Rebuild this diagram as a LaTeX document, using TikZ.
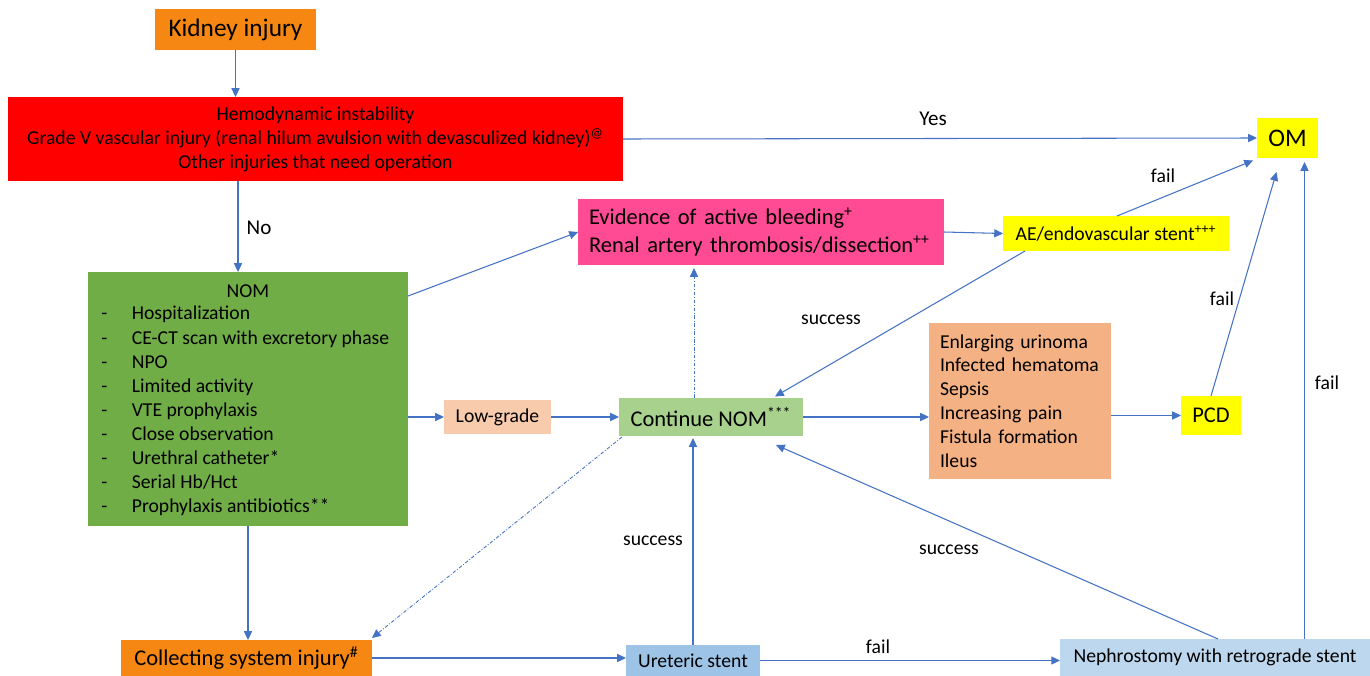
\documentclass[tikz,border=0pt]{standalone}
\usepackage{fontspec}
\setmainfont{Carlito}
\usetikzlibrary{arrows.meta,calc}
\definecolor{arrowblue}{HTML}{4472C4}
\definecolor{kidorange}{HTML}{F58712}
\definecolor{redbox}{HTML}{FF0000}
\definecolor{nomgreen}{HTML}{70AD47}
\definecolor{pinkbox}{HTML}{FF4A94}
\definecolor{yelbox}{HTML}{FFFF00}
\definecolor{contgreen}{HTML}{A9D18E}
\definecolor{lowpeach}{HTML}{F8CBAD}
\definecolor{compsalmon}{HTML}{F4B183}
\definecolor{urblue}{HTML}{9DC3E6}
\definecolor{nephblue}{HTML}{BDD7EE}
\newcommand{\fsmall}{\fontsize{11.2}{13.7}\selectfont}
\newcommand{\fmed}{\fontsize{12.8}{15.6}\selectfont}
\newcommand{\flarge}{\fontsize{14.4}{17}\selectfont}
\tikzset{
  box/.style={inner sep=0pt, outer sep=0pt, draw=none},
  arr/.style={draw=arrowblue, line width=0.6pt, -{Triangle[length=5pt,width=4.6pt]}},
  dotarr/.style={arr, line width=0.5pt, dash pattern=on 2pt off 1pt on 0.5pt off 1pt},
  lbl/.style={font=\fsmall, inner sep=0pt},
}
\begin{document}
\begin{tikzpicture}[x=0.02cm,y=-0.02cm]
\useasboundingbox (0,0) rectangle (1370,676);

% boxes
\node[box, fill=kidorange, minimum width=3.22cm, minimum height=0.82cm, font=\flarge] (kid) at (235.5,29.5) {\raisebox{-0.04cm}{Kidney injury}};
\node[box, fill=redbox, minimum width=12.3cm, minimum height=1.68cm, font=\fsmall, align=center] (red) at (315.5,139)
  {\raisebox{-0.05cm}{Hemodynamic instability}\\\raisebox{-0.05cm}{Grade V vascular injury (renal hilum avulsion with devasculized kidney)\textsuperscript{@}}\\\raisebox{-0.05cm}{Other injuries that need operation}};
\node[box, fill=yelbox, minimum width=1.22cm, minimum height=0.8cm, font=\flarge] (om) at (1287.5,138) {OM};
\node[box, fill=nomgreen, minimum width=6.4cm, minimum height=5.08cm] (nom) at (248,399) {};
\node[lbl] (nomtitle) at (248,291) {NOM};
\node[lbl, anchor=west, align=left] (nomlist) at (101,411)
  {\makebox[0.61cm][l]{-}Hospitalization\\
   \makebox[0.61cm][l]{-}CE-CT scan with excretory phase\\
   \makebox[0.61cm][l]{-}NPO\\
   \makebox[0.61cm][l]{-}Limited activity\\
   \makebox[0.61cm][l]{-}VTE prophylaxis\\
   \makebox[0.61cm][l]{-}Close observation\\
   \makebox[0.61cm][l]{-}Urethral catheter*\\
   \makebox[0.61cm][l]{-}Serial Hb/Hct\\
   \makebox[0.61cm][l]{-}Prophylaxis antibiotics**};
\node[box, fill=pinkbox, minimum width=7.32cm, minimum height=1.32cm, text width=6.88cm, align=left,
  font=\fontsize{12.8}{15.6}\selectfont] (pink) at (761,232)
  {Evidence of active bleeding\textsuperscript{+}\\Renal artery thrombosis/dissection\textsuperscript{++}};
\node[box, fill=yelbox, minimum width=4.52cm, minimum height=0.7cm, font=\fsmall] (ae) at (1116,233.5) {AE/endovascular stent\textsuperscript{+++}};
\node[box, fill=contgreen, minimum width=3.68cm, minimum height=0.76cm, font=\fmed] (cont) at (711,417) {Continue NOM\textsuperscript{***}};
\node[box, fill=lowpeach, minimum width=2.14cm, minimum height=0.68cm, font=\fsmall] (low) at (497.5,417) {Low-grade};
\node[box, fill=compsalmon, minimum width=3.64cm, minimum height=3.12cm, text width=3.2cm, align=left,
  font=\fontsize{11.2}{13.6}\selectfont] (comp) at (1020,401)
  {Enlarging urinoma\\Infected hematoma\\Sepsis\\Increasing pain\\Fistula formation\\Ileus};
\node[box, fill=yelbox, minimum width=1.2cm, minimum height=0.78cm, font=\fmed] (pcd) at (1211,415.5) {PCD};
\node[box, fill=kidorange, minimum width=5.02cm, minimum height=0.72cm, font=\fmed] (coll) at (246.5,658) {Collecting system injury\textsuperscript{\#}};
\node[box, fill=urblue, minimum width=2.68cm, minimum height=0.62cm, font=\fsmall] (ure) at (693,660.5) {Ureteric stent};
\node[box, fill=nephblue, minimum width=6.2cm, minimum height=0.74cm, font=\fsmall] (neph) at (1215,657.5) {Nephrostomy with retrograde stent};

% helper coordinates
\coordinate (nomtop) at ([xshift=-0.2cm]nom.north);
\coordinate (contup) at ([xshift=-0.34cm]cont.north);
\coordinate (omright) at ([xshift=0.34cm]om.south);

% connectors
\draw[arr] (kid.south) -- (kid.south |- red.north);
\draw[arr] (nomtop |- red.south) -- (nomtop);
\node[font=\fontsize{12}{14}\selectfont, inner sep=0pt] (no) at (259,228) {No};
\draw[arr] (red.east) -- (om.west);
\node[font=\fontsize{12}{14}\selectfont, inner sep=0pt] (yes) at (933,119) {Yes};
\draw[arr] ([yshift=-0.48cm]nom.north east) -- (pink.west);
\draw[arr] (pink.east) -- (ae.west);
\draw[arr] ([xshift=0.02cm]ae.north) -- ([xshift=-0.08cm,yshift=-0.05cm]om.south west);
\node[lbl] (fail1) at (1163,176) {fail};
\draw[arr] ([xshift=0.44cm]ae.south west) -- ([xshift=-0.56cm,yshift=0.03cm]cont.north east);
\node[lbl] (succ1) at (831,320) {success};
\draw[arr] (low.west -| nom.east) -- (low.west);
\draw[arr] (low.east) -- (cont.west);
\draw[arr] (cont.east) -- (cont.east -| comp.west);
\draw[arr] (pcd.west -| comp.east) -- (pcd.west);
\draw[arr] (pcd.north) -- ([xshift=-0.22cm,yshift=-0.28cm]om.south);
\node[lbl] (fail2) at (1222,299) {fail};
\draw[dotarr] (contup) -- ([yshift=-0.06cm]contup |- pink.south);
\draw[dotarr] ([xshift=0.06cm,yshift=-0.02cm]cont.south west) -- ([yshift=0.04cm]coll.north east);
\draw[arr] (nom.south) -- (nom.south |- coll.north);
\draw[arr] (coll.east) -- (coll.east -| ure.west);
\draw[arr] (ure.north) -- ([yshift=-0.04cm]ure.north |- cont.south);
\node[lbl] (succ2) at (653,541) {success};
\draw[arr] (ure.east) -- (ure.east -| neph.west);
\node[lbl] (fail3) at (878,647) {fail};
\draw[arr] ([xshift=0.06cm]neph.north) -- ([xshift=-0.54cm,yshift=-0.18cm]cont.south east);
\node[lbl] (succ3) at (949,550) {success};
\draw[arr] (omright |- neph.north) -- ([yshift=-0.08cm]omright);
\node[lbl] (fail4) at (1327,383) {fail};
\end{tikzpicture}
\end{document}
